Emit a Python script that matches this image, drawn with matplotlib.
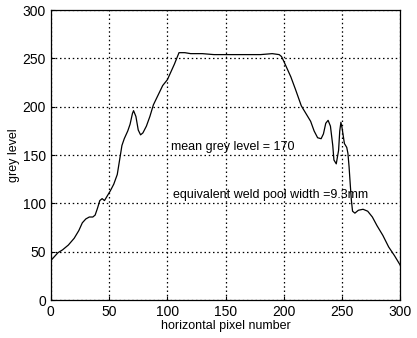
import matplotlib
matplotlib.use('Agg')
import matplotlib.pyplot as plt

# grey level profile across the weld pool
pixel = [0, 3, 6, 10, 15, 20, 24, 27, 30, 33, 36, 38, 40, 42, 44, 46, 48, 51, 54,
         57, 59, 61, 63, 66, 68, 70, 71, 73, 75, 77, 79, 82, 85, 88, 92, 96, 100,
         103, 106, 108, 110, 115, 120, 130, 140, 150, 160, 170, 180, 190, 196,
         198, 200, 203, 206, 210, 215, 219, 223, 226, 229, 232, 234, 236, 238,
         240, 242, 243, 245, 247, 248, 249, 250, 252, 254, 255, 256, 257, 258,
         259, 261, 264, 268, 272, 276, 280, 285, 290, 295, 300]
grey = [41, 45, 49, 52, 57, 64, 72, 80, 84, 86, 86, 88, 95, 103, 105, 103, 107,
        113, 120, 130, 145, 160, 167, 175, 182, 193, 196, 190, 176, 171, 173, 180,
        190, 202, 212, 222, 228, 236, 244, 250, 256, 256, 255, 255, 254, 254, 254,
        254, 254, 255, 254, 252, 247, 239, 231, 218, 201, 193, 185, 175, 168, 167,
        172, 183, 186, 180, 160, 145, 141, 155, 175, 184, 178, 162, 158, 152, 138,
        120, 103, 92, 90, 93, 94, 92, 86, 77, 67, 55, 46, 36]

fig = plt.figure(figsize=(4.17, 3.38), dpi=100)
plt.rcParams['font.family'] = ['Liberation Sans', 'DejaVu Sans']
ax = fig.add_axes([0.122, 0.112, 0.838, 0.858])

ax.plot(pixel, grey, color='black', linewidth=0.9)

ax.set_xlim(0, 300)
ax.set_ylim(0, 300)
ax.set_xticks(range(0, 301, 50))
ax.set_yticks(range(0, 301, 50))
ax.tick_params(direction='in', labelsize=10, length=3, width=0.8)
ax.grid(True, linestyle=(0, (1.2, 2.2)), color='black', linewidth=0.9)
for s in ax.spines.values():
    s.set_linewidth(0.9)

ax.set_xlabel('horizontal pixel number', fontsize=9, labelpad=1)
ax.set_ylabel('grey level', fontsize=9, labelpad=2)

ax.text(103, 158, 'mean grey level = 170', fontsize=9, va='center')
ax.text(105, 109, 'equivalent weld pool width =9.3mm', fontsize=9, va='center')

fig.savefig('out.png', dpi=100)
